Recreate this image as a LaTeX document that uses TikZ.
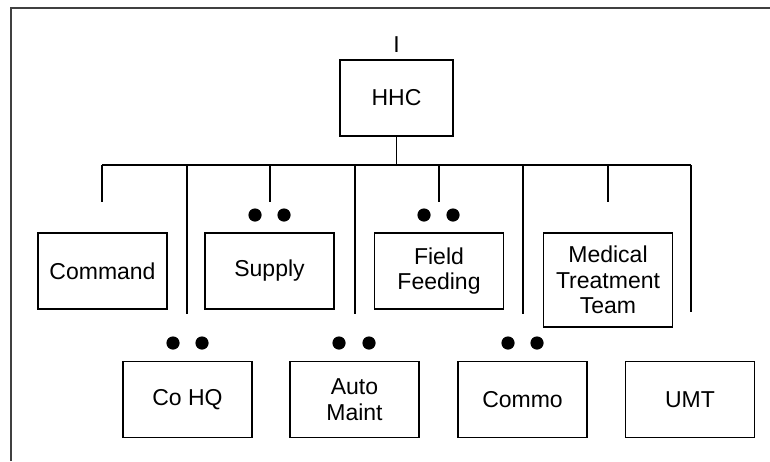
\documentclass[tikz,border=0pt]{standalone}
\usepackage{fontspec}
\setmainfont{Liberation Sans}
\begin{document}
\begin{tikzpicture}[x=1pt,y=-1pt,
  unitbox/.style={draw=black,line width=1.8pt,minimum width=129pt,minimum height=76pt,
    inner sep=0pt,align=center,font=\fontsize{23}{25.5}\selectfont},
  link/.style={draw=black,line width=1.8pt},
  pip/.style={fill=black},
  frameline/.style={draw=black!75,line width=2.2pt}]
\useasboundingbox (0,0) rectangle (770,461);
% open outer frame
\draw[frameline] (11,461) -- (11,8) -- (770,8);

% headquarters
\node[unitbox,minimum width=113pt] (hhc) at (396.5,98) {HHC};
\node[font=\fontsize{23}{25.5}\selectfont,inner sep=0pt,anchor=south] (size) at (396.5,53) {I};

% first row of sections
\node[unitbox] (cmd) at (102.5,271) {Command};
\node[unitbox] (sup) at (269.5,271) {Supply};
\node[unitbox] (ffd) at (439,271) {Field\\Feeding};
\node[unitbox,minimum height=94pt] (med) at (608,280) {Medical\\Treatment\\Team};

% second row of sections
\node[unitbox] (cohq) at (187.5,399.5) {Co HQ};
\node[unitbox] (auto) at (354.5,399.5) {Auto\\Maint};
\node[unitbox] (commo) at (522.5,399.5) {Commo};
\node[unitbox] (umt) at (690,399.5) {UMT};

% bus and drop points
\coordinate (busL) at (102,165);
\coordinate (busR) at (691,165);
\coordinate (busM) at (396.5,165);
\coordinate (dcmd) at (102,202);
\coordinate (dsup) at (270,202);
\coordinate (dffd) at (439,202);
\coordinate (dmed) at (608,202);
\coordinate (dcohq) at (187,314);
\coordinate (dauto) at (355,314);
\coordinate (dcommo) at (523,314);
\coordinate (dumt) at (691,312);

\draw[link] (hhc.south) -- (busM);
\draw[link] (busL) -- (busR);
\foreach \d in {dcmd,dsup,dffd,dmed,dcohq,dauto,dcommo,dumt}
  \draw[link] (\d |- busL) -- (\d);

% section size markers
\foreach \x/\y in {255/215,284/215,424/215,453/215,
                   173/343,202/343,339/343,369/343,508/343,537/343}
  \fill[pip] (\x,\y) circle (6.6pt);
\end{tikzpicture}
\end{document}
